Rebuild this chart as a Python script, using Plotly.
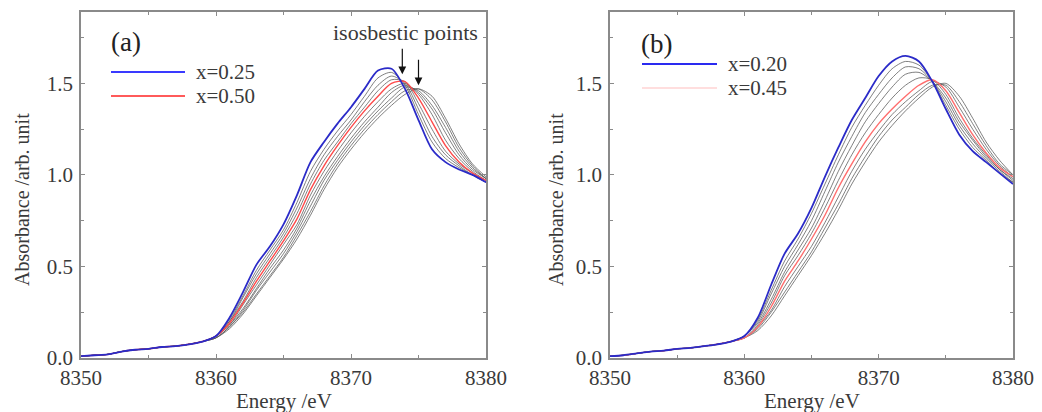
import plotly.graph_objects as go

# ---------------- data ----------------
energy_pre = [8350, 8351, 8352, 8353, 8354, 8355, 8356, 8357, 8358, 8359]
energy_edge = [8360, 8361, 8362, 8363, 8364, 8365, 8366, 8367, 8368, 8369, 8370,
               8371, 8372, 8373, 8374, 8375, 8376, 8377, 8378, 8379, 8380]

pre_a = [0.01, 0.015, 0.02, 0.035, 0.045, 0.05, 0.06, 0.065, 0.075, 0.09]
pre_b = [0.01, 0.015, 0.025, 0.035, 0.04, 0.05, 0.055, 0.065, 0.075, 0.09]

# panel (a): x=0.25 (blue) ... x=0.50 (red) ... further grey spectra
blue_a = [0.12, 0.22, 0.36, 0.51, 0.61, 0.73, 0.89, 1.07, 1.18, 1.28, 1.37, 1.47, 1.57, 1.58, 1.47, 1.30, 1.14, 1.07, 1.03, 1.00, 0.96]
grey_a = [
    [0.12, 0.21, 0.34, 0.48, 0.59, 0.70, 0.85, 1.02, 1.14, 1.24, 1.33, 1.43, 1.53, 1.56, 1.49, 1.33, 1.18, 1.09, 1.04, 1.00, 0.96],
    [0.12, 0.20, 0.33, 0.46, 0.57, 0.68, 0.82, 0.98, 1.11, 1.21, 1.30, 1.40, 1.49, 1.54, 1.50, 1.36, 1.21, 1.11, 1.05, 1.00, 0.96],
    [0.12, 0.20, 0.31, 0.44, 0.55, 0.66, 0.79, 0.95, 1.08, 1.18, 1.28, 1.37, 1.46, 1.52, 1.51, 1.39, 1.25, 1.13, 1.06, 1.01, 0.97],
    [0.12, 0.18, 0.29, 0.40, 0.51, 0.62, 0.73, 0.89, 1.02, 1.13, 1.23, 1.32, 1.40, 1.47, 1.50, 1.44, 1.33, 1.19, 1.09, 1.02, 0.97],
    [0.12, 0.18, 0.27, 0.38, 0.49, 0.59, 0.71, 0.86, 0.99, 1.10, 1.20, 1.29, 1.37, 1.45, 1.49, 1.45, 1.36, 1.23, 1.11, 1.03, 0.98],
    [0.11, 0.17, 0.26, 0.37, 0.47, 0.57, 0.69, 0.83, 0.97, 1.08, 1.18, 1.27, 1.35, 1.42, 1.48, 1.46, 1.38, 1.26, 1.13, 1.04, 0.98],
    [0.11, 0.17, 0.25, 0.35, 0.45, 0.55, 0.67, 0.80, 0.94, 1.06, 1.16, 1.25, 1.33, 1.40, 1.46, 1.47, 1.41, 1.29, 1.15, 1.05, 0.98],
    [0.11, 0.16, 0.24, 0.34, 0.44, 0.54, 0.65, 0.78, 0.92, 1.04, 1.14, 1.23, 1.31, 1.38, 1.44, 1.47, 1.43, 1.31, 1.17, 1.06, 0.99],
]
red_a = [0.12, 0.19, 0.30, 0.42, 0.53, 0.64, 0.76, 0.92, 1.05, 1.16, 1.26, 1.35, 1.43, 1.50, 1.51, 1.42, 1.29, 1.16, 1.07, 1.01, 0.97]

# panel (b): x=0.20 (blue) ... x=0.45 (red) ... further grey spectra
blue_b = [0.12, 0.22, 0.40, 0.57, 0.68, 0.82, 0.99, 1.15, 1.30, 1.42, 1.54, 1.62, 1.65, 1.62, 1.51, 1.36, 1.22, 1.13, 1.07, 1.01, 0.95]
grey_b = [
    [0.12, 0.21, 0.37, 0.53, 0.65, 0.79, 0.95, 1.11, 1.26, 1.38, 1.49, 1.58, 1.62, 1.60, 1.51, 1.38, 1.25, 1.15, 1.08, 1.01, 0.96],
    [0.12, 0.20, 0.35, 0.50, 0.62, 0.75, 0.91, 1.07, 1.21, 1.34, 1.44, 1.53, 1.59, 1.58, 1.51, 1.40, 1.27, 1.17, 1.09, 1.02, 0.96],
    [0.12, 0.19, 0.32, 0.47, 0.59, 0.71, 0.86, 1.02, 1.16, 1.29, 1.39, 1.48, 1.55, 1.56, 1.51, 1.42, 1.29, 1.19, 1.10, 1.03, 0.97],
    [0.11, 0.18, 0.30, 0.45, 0.56, 0.68, 0.82, 0.97, 1.11, 1.23, 1.33, 1.42, 1.49, 1.53, 1.52, 1.44, 1.31, 1.20, 1.11, 1.03, 0.98],
    [0.11, 0.17, 0.26, 0.39, 0.50, 0.61, 0.74, 0.88, 1.02, 1.14, 1.24, 1.33, 1.40, 1.46, 1.51, 1.48, 1.37, 1.25, 1.14, 1.05, 0.99],
    [0.11, 0.16, 0.25, 0.36, 0.47, 0.58, 0.71, 0.84, 0.98, 1.10, 1.21, 1.30, 1.37, 1.44, 1.49, 1.49, 1.40, 1.28, 1.16, 1.06, 1.00],
    [0.11, 0.15, 0.23, 0.34, 0.45, 0.56, 0.68, 0.81, 0.95, 1.07, 1.18, 1.27, 1.35, 1.42, 1.48, 1.50, 1.43, 1.31, 1.18, 1.08, 1.00],
]
red_b = [0.11, 0.17, 0.28, 0.42, 0.53, 0.65, 0.78, 0.93, 1.06, 1.18, 1.28, 1.36, 1.43, 1.49, 1.52, 1.46, 1.34, 1.22, 1.12, 1.04, 0.99]

legend_a = ["x=0.25", "x=0.50"]
legend_b = ["x=0.20", "x=0.45"]
panel_labels = ["(a)", "(b)"]
x_ticks = [8350, 8360, 8370, 8380]
y_ticks = [0.0, 0.5, 1.0, 1.5]
isosbestic_a = [(8373.8, 1.55), (8375.0, 1.49)]

# ---------------- figure ----------------
W, H = 1042, 412
SERIF = "Liberation Serif"
energy = energy_pre + energy_edge

BLUE = "#2b2bc8"
RED_A = "#ff4a4a"
RED_B = "#ff6e6e"
GREY = "rgba(85,85,85,0.75)"

fig = go.Figure()


def add_panel(pre, blue, greys, red, xa, ya, red_col):
    for g in greys:
        fig.add_trace(go.Scatter(x=energy, y=pre + g, mode="lines", xaxis=xa, yaxis=ya,
                                 line=dict(color=GREY, width=1, shape="spline", smoothing=0.8),
                                 showlegend=False, hoverinfo="skip"))
    fig.add_trace(go.Scatter(x=energy, y=pre + red, mode="lines", xaxis=xa, yaxis=ya,
                             line=dict(color=red_col, width=1.4, shape="spline", smoothing=0.8),
                             showlegend=False))
    fig.add_trace(go.Scatter(x=energy, y=pre + blue, mode="lines", xaxis=xa, yaxis=ya,
                             line=dict(color=BLUE, width=1.8, shape="spline", smoothing=0.8),
                             showlegend=False))


add_panel(pre_a, blue_a, grey_a, red_a, "x", "y", RED_A)
add_panel(pre_b, blue_b, grey_b, red_b, "x2", "y2", RED_B)


def px(x):
    return x / W


def py(y):
    return 1 - y / H


axis_common = dict(
    showline=True, linecolor="#8a8a8a", linewidth=1.5, mirror="allticks",
    ticks="inside", ticklen=4, tickcolor="#8a8a8a", tickwidth=1,
    showgrid=False, zeroline=False, automargin=False,
    tickfont=dict(family=SERIF, size=21, color="#3a3a3a"),
)

ydom = [py(358), py(12)]
fig.update_layout(
    width=W, height=H,
    margin=dict(l=0, r=0, t=0, b=0, pad=0, autoexpand=False),
    paper_bgcolor="white", plot_bgcolor="white",
    showlegend=False,
    font=dict(family=SERIF),
    xaxis=dict(domain=[px(81), px(486)], range=[8350, 8380], tickvals=x_ticks,
               minor=dict(dtick=5, ticks="inside", ticklen=3, tickcolor="#8a8a8a"),
               ticklabelstandoff=0, anchor="y", **axis_common),
    yaxis=dict(domain=ydom, range=[0, 1.89], tickvals=y_ticks, tickformat=".1f",
               minor=dict(dtick=0.25, ticks="inside", ticklen=3, tickcolor="#8a8a8a"),
               ticklabelstandoff=2, anchor="x", **axis_common),
    xaxis2=dict(domain=[px(610), px(1013)], range=[8350, 8380], tickvals=x_ticks,
                minor=dict(dtick=5, ticks="inside", ticklen=3, tickcolor="#8a8a8a"),
                ticklabelstandoff=0, anchor="y2", **axis_common),
    yaxis2=dict(domain=ydom, range=[0, 1.89], tickvals=y_ticks, tickformat=".1f",
                minor=dict(dtick=0.25, ticks="inside", ticklen=3, tickcolor="#8a8a8a"),
                ticklabelstandoff=2, anchor="x2", **axis_common),
)

txt = dict(family=SERIF, size=21, color="#3a3a3a")
ann = []
# axis titles
for cx in [(81 + 486) / 2, (610 + 1013) / 2]:
    ann.append(dict(text="Energy /eV", x=px(cx), y=py(401), xref="paper", yref="paper",
                    showarrow=False, font=txt, xanchor="center", yanchor="middle"))
for cx in [22, 556]:
    ann.append(dict(text="Absorbance /arb. unit", x=px(cx), y=py(200), xref="paper", yref="paper",
                    showarrow=False, font=dict(family=SERIF, size=20, color="#3a3a3a"),
                    textangle=-90, xanchor="center", yanchor="middle"))
# panel labels
for lab, cx, cy in [(panel_labels[0], 126, 42), (panel_labels[1], 656, 44)]:
    ann.append(dict(text=lab, x=px(cx), y=py(cy), xref="paper", yref="paper", showarrow=False,
                    font=dict(family=SERIF, size=27, color="#222"), xanchor="center", yanchor="middle"))
# legend texts
for lab, lx, ly in [(legend_a[0], 194, 72), (legend_a[1], 194, 96),
                    (legend_b[0], 726, 64), (legend_b[1], 726, 88)]:
    ann.append(dict(text=lab, x=px(lx), y=py(ly), xref="paper", yref="paper", showarrow=False,
                    font=txt, xanchor="left", yanchor="middle"))
# isosbestic annotation
ann.append(dict(text="isosbestic points", x=px(405), y=py(33), xref="paper", yref="paper",
                showarrow=False, font=dict(family=SERIF, size=22, color="#3a3a3a"),
                xanchor="center", yanchor="middle"))
for (ex, ey) in isosbestic_a:
    ann.append(dict(text="", x=ex, y=ey, xref="x", yref="y", ax=0, ay=-27,
                    showarrow=True, arrowhead=2, arrowsize=1.3, arrowwidth=1.2, arrowcolor="#111"))
fig.update_layout(annotations=ann)

# legend sample lines
shapes = []
for x0, x1, y0, col, w in [(111, 185, 72, "#3a3aff", 2.2), (111, 185, 96, "#ff5a5a", 2.2),
                           (642, 717, 64, "#2a2af0", 2.0), (642, 717, 88, "#ffd3d3", 1.5)]:
    shapes.append(dict(type="line", xref="paper", yref="paper", x0=px(x0), x1=px(x1),
                       y0=py(y0), y1=py(y0), line=dict(color=col, width=w)))
fig.update_layout(shapes=shapes)

fig.write_html("out.html", config={"responsive": False, "displayModeBar": False})

# remove the browser's default page margin so the figure sits at the window's origin
with open("out.html", "r", encoding="utf-8") as f:
    html = f.read()
html = html.replace("<head>", "<head><style>html,body{margin:0;padding:0;overflow:hidden;}</style>", 1)
with open("out.html", "w", encoding="utf-8") as f:
    f.write(html)
